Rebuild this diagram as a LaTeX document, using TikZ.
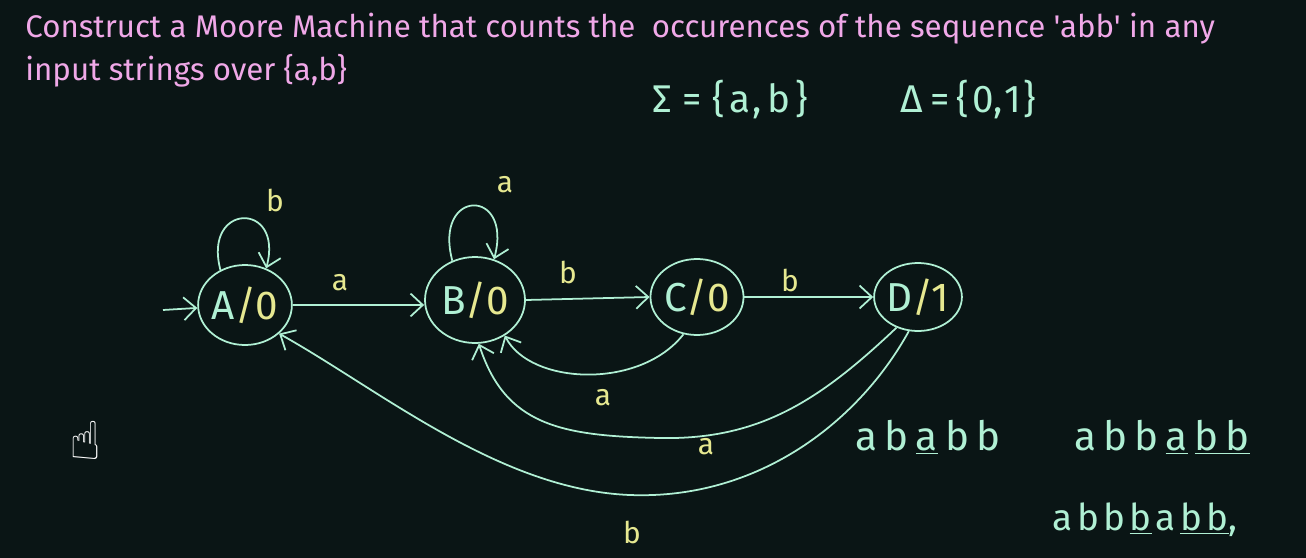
\documentclass[tikz,border=0pt]{standalone}
\usepackage{fontspec}
\usetikzlibrary{arrows.meta,shapes.geometric}
\newfontfamily\tfont{Fira Sans}
\newfontfamily\symfont{DejaVu Sans}
\definecolor{bg}{HTML}{0A1515}
\definecolor{pinkt}{HTML}{F0A8E8}
\definecolor{mint}{HTML}{B0F0D4}
\definecolor{yel}{HTML}{E6E890}
\newcommand\ls{\kern4pt}
\newcommand\lss{\kern2.5pt}
\begin{document}
\begin{tikzpicture}[x=0.02cm,y=-0.02cm,
  state/.style={draw=mint,ellipse,line width=1pt,inner sep=0pt,text=mint,font=\tfont\fontsize{23}{25}\selectfont},
  conn/.style={draw=mint,line width=1pt,-{Straight Barb[length=7pt,width=13pt]}},
  lbl/.style={text=yel,font=\tfont\fontsize{17}{19}\selectfont},
  title/.style={text=pinkt,anchor=base west,inner sep=0pt,font=\tfont\fontsize{17.8}{20}\selectfont},
  math/.style={text=mint,font=\tfont\fontsize{22}{24}\selectfont},
  hand/.style={text=mint,font=\tfont\fontsize{23}{25}\selectfont},
]
\fill[bg] (0,0) rectangle (1306,558);
\useasboundingbox (0,0) rectangle (1306,558);
\node[title] (t1) at (25,37) {Construct a Moore Machine that counts the\ \ occurences of the sequence 'abb' in any};
\node[title] (t2) at (25,80) {input strings over \{a,b\}};
\node[math] (sig) at (730,100) {Σ\kern6pt=\kern6pt\{\kern3pt a\kern1pt,\kern3pt b\kern3pt\}};
\node[math] (del) at (968,100) {Δ\kern4pt=\kern4pt\{\kern2pt 0,\kern1pt 1\kern1pt\}};

\node[state,minimum width=86*0.02cm,minimum height=80*0.02cm] (A) at (245,305) {A\textcolor{yel}{/0}};
\node[state,minimum width=100*0.02cm,minimum height=86*0.02cm] (B) at (475,300) {B\textcolor{yel}{/0}};
\node[state,minimum width=90*0.02cm,minimum height=76*0.02cm] (C) at (697,297) {C\textcolor{yel}{/0}};
\node[state,minimum width=84*0.02cm,minimum height=68*0.02cm] (D) at (918,297) {D\textcolor{yel}{/1}};

\coordinate (s) at (163,310);
\draw[conn] (s) -- (A);
\draw[conn] (A.125) .. controls +(-105:70) and +(-75:70) .. (A.60);
\draw[conn] (B.120) .. controls +(-105:75) and +(-75:75) .. (B.65);
\draw[conn] (A.east) -- (B.west |- A.east);
\draw[conn] (B.east) -- (C.west);
\draw[conn] (C.east) -- (D.west);
\draw[conn] (C.250) .. controls (640,390) and (530,385) .. (B.310);
\draw[conn] (D.235) .. controls (820,400) and (760,440) .. (660,438) .. controls (560,436) and (505,425) .. (B.275);
\draw[conn] (D.255) .. controls (860,420) and (760,500) .. (630,495) .. controls (500,490) and (380,390) .. (A.320);

\node[lbl] (la) at (275,200) {b};
\node[lbl] (lb) at (505,185) {a};
\node[lbl] (lab) at (340,283) {a};
\node[lbl] (lbc) at (568,272) {b};
\node[lbl] (lcd) at (790,280) {b};
\node[lbl] (lcb) at (603,398) {a};
\node[lbl] (ldb) at (706,447) {a};
\node[lbl] (lda) at (632,532) {b};

\node[hand] (s1) at (928,437) {a\ls b\ls\underline{a}\ls b\ls b};
\node[hand] (s2) at (1162,437) {a\ls b\ls b\ls\underline{a}\ls\underline{b\ls b}};
\node[hand,font=\tfont\fontsize{21}{23}\selectfont] (s3) at (1145,520) {a\lss b\lss b\lss\underline{b}\lss a\lss\underline{b\lss b},};
\node[text=white,font=\symfont\fontsize{30}{30}\selectfont] (cur) at (86,440) {☝};
\end{tikzpicture}
\end{document}
